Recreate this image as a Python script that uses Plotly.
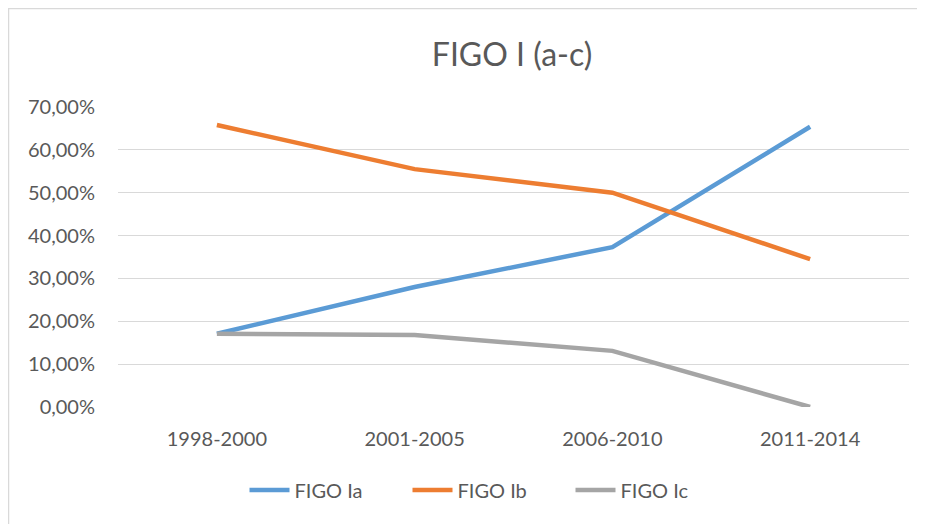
import plotly.graph_objs as go

periods = ['1998-2000', '2001-2005', '2006-2010', '2011-2014']
figo_ia = [17.1, 28.0, 37.3, 65.4]
figo_ib = [65.8, 55.5, 50.0, 34.5]
figo_ic = [17.1, 16.8, 13.1, 0.0]

series = [
    ('FIGO Ia', figo_ia, '#5B9BD5'),
    ('FIGO Ib', figo_ib, '#ED7D31'),
    ('FIGO Ic', figo_ic, '#A5A5A5'),
]

data = []
for name, values, color in series:
    data.append(go.Scatter(
        x=periods,
        y=values,
        name=name,
        mode='lines',
        line={'color': color, 'width': 4.5},
    ))

font_family = 'Lato, Open Sans, sans-serif'

# the page body adds an 8px offset, so the figure is a bit smaller than the window
W, H = 917, 516
ml, mt = 110, 99
pw, ph = 791, 300

layout = go.Layout(
    width=W,
    height=H,
    margin={'l': ml, 'r': W - ml - pw, 't': mt, 'b': H - mt - ph},
    paper_bgcolor='white',
    plot_bgcolor='white',
    separators=',.',
    font=dict(family=font_family, size=20, color='#595959'),
    title=dict(
        text='FIGO I (a-c)',
        xref='paper', x=(504 - ml) / pw, xanchor='center',
        yref='container', y=1 - 47 / H, yanchor='middle',
        font=dict(size=32, color='#595959'),
    ),
    xaxis=dict(
        type='category',
        range=[-0.5, 3.5],
        showgrid=False,
        showline=False,
        zeroline=False,
        ticks='',
        ticklabelstandoff=18,
    ),
    yaxis=dict(
        range=[0, 70],
        dtick=10,
        tickformat='.2f',
        ticksuffix='%',
        showgrid=True,
        gridcolor='#D9D9D9',
        gridwidth=1.3,
        zeroline=False,
        showline=False,
        ticks='',
        ticklabelstandoff=22,
    ),
    showlegend=True,
    legend=dict(
        orientation='h',
        x=(481 - ml) / pw, xanchor='center',
        y=(mt + ph - 482) / ph, yanchor='middle',
        font=dict(size=20, color='#595959'),
        itemwidth=40,
        entrywidth=108,
        tracegroupgap=0,
    ),
    shapes=[dict(
        type='rect', xref='paper', yref='paper',
        x0=(0.5 - ml) / pw, x1=1.5,
        y0=-0.5, y1=1 + (mt - 0.5) / ph,
        line=dict(color='#D9D9D9', width=1.5),
        layer='below',
    )],
)

fig = go.Figure(data=data, layout=layout)
fig.write_html('out.html')
